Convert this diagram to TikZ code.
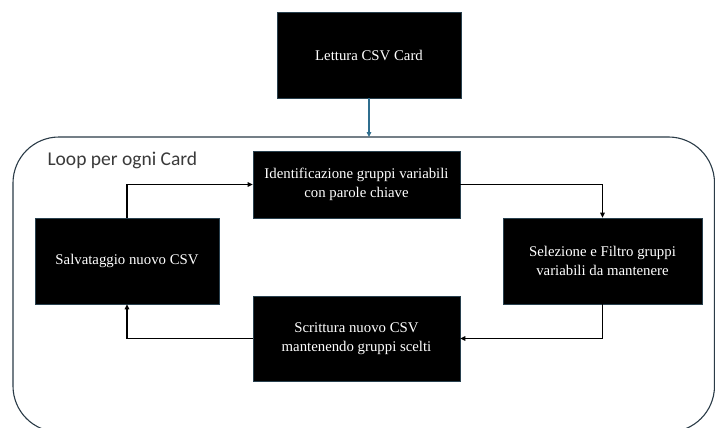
\documentclass[tikz,border=0pt]{standalone}
\usepackage{fontspec}
\setmainfont{Liberation Serif}
\newfontfamily\labelfont{Carlito}
\usetikzlibrary{arrows.meta}
\definecolor{frameline}{HTML}{2A3B47}
\definecolor{feedline}{HTML}{2F6E8E}
\definecolor{boxedge}{HTML}{28404E}
\definecolor{labelgray}{HTML}{3A3A3A}
\tikzset{
  stepbox/.style={fill=black, draw=boxedge, line width=0.6pt, text=white,
    font=\fontsize{14.8}{18.5}\selectfont, align=center, inner sep=0pt},
  flow/.style={line width=1.1pt, -{Triangle[length=5pt,width=4.5pt]}},
}
\begin{document}
\begin{tikzpicture}[x=1pt, y=-1pt]
  \useasboundingbox (0,0) rectangle (715,428);
  \begin{scope}
    \clip (0,0) rectangle (715,428);
    % loop container
    \draw[frameline, line width=1.1pt, rounded corners=46pt]
      (13,137) rectangle (714.5,432);
  \end{scope}
  \node[anchor=base west, text=labelgray,
        font=\labelfont\fontsize{19.5}{22}\selectfont] (looplabel) at (44,165) {Loop per ogni Card};

  % process boxes
  \node[stepbox, minimum width=184pt, minimum height=86pt] (read) at (369,55) {Lettura CSV Card};
  \node[stepbox, minimum width=207pt, minimum height=67pt] (ident) at (356.5,184.5)
    {Identificazione gruppi variabili\\con parole chiave};
  \node[stepbox, minimum width=199pt, minimum height=86pt] (select) at (602.5,261)
    {Selezione e Filtro gruppi\\variabili da mantenere};
  \node[stepbox, minimum width=207pt, minimum height=85pt] (write) at (356.5,338.5)
    {Scrittura nuovo CSV\\mantenendo gruppi scelti};
  \node[stepbox, minimum width=184pt, minimum height=86pt] (save) at (127,261)
    {Salvataggio nuovo CSV};

  % entry into the loop
  \coordinate (loopin) at (369,137);
  \draw[feedline, line width=1.1pt, -{Triangle[length=5pt,width=4.5pt]}] (read.south) -- (loopin);

  % loop connectors
  \draw[flow] (save.north) |- (ident.west);
  \draw[flow] (ident.east) -| (select.north);
  \draw[flow] (select.south) |- (write.east);
  \draw[flow] (write.west) -| (save.south);
\end{tikzpicture}
\end{document}
